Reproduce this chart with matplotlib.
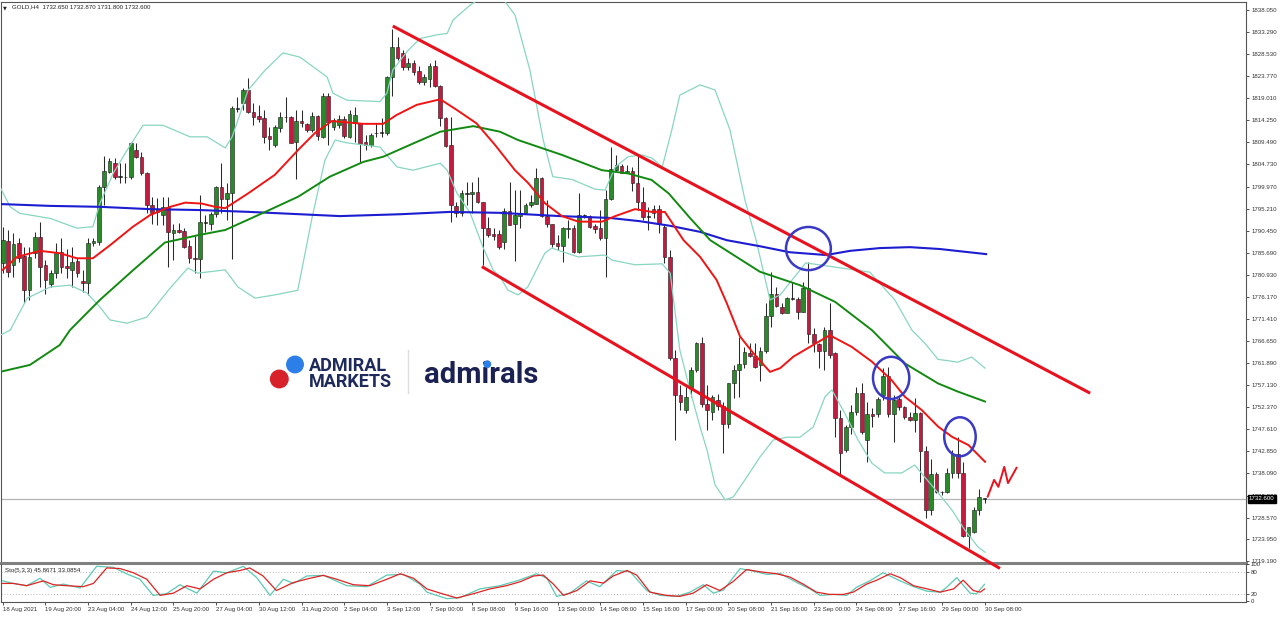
import matplotlib
matplotlib.use("Agg")
import matplotlib.pyplot as plt
import matplotlib.transforms as mtransforms
from matplotlib.patches import Ellipse
from matplotlib.lines import Line2D
import numpy as np

plt.rcParams['font.family'] = ['Liberation Sans', 'DejaVu Sans']

# GOLD H4 candles, oldest first
opens = [1783.5, 1788.3, 1783.1, 1787.8, 1785.0, 1777.7, 1785.7, 1789.1, 1783.1, 1778.9,
         1781.3, 1785.9, 1782.8, 1782.0, 1783.9, 1779.7, 1779.1, 1787.7, 1788.1, 1799.9,
         1803.2, 1805.0, 1802.1, 1802.1, 1802.1, 1807.9, 1806.4, 1802.8, 1796.0, 1795.1,
         1793.8, 1795.6, 1790.0, 1790.7, 1790.4, 1787.2, 1784.6, 1784.3, 1792.2, 1791.8,
         1794.0, 1799.9, 1797.2, 1798.6, 1816.9, 1818.1, 1820.9, 1816.1, 1815.2, 1814.7,
         1810.9, 1808.9, 1812.5, 1814.9, 1815.0, 1809.6, 1814.1, 1813.4, 1812.2, 1815.2,
         1810.7, 1819.5, 1812.9, 1813.2, 1814.5, 1810.7, 1813.6, 1813.7, 1809.5, 1808.9,
         1811.5, 1811.6, 1811.6, 1823.5, 1830.1, 1828.7, 1825.7, 1826.6, 1825.0, 1822.6,
         1823.1, 1826.0, 1821.7, 1814.8, 1808.9, 1795.8, 1794.2, 1798.4, 1798.4, 1798.9,
         1796.7, 1791.0, 1789.7, 1789.7, 1788.1, 1794.8, 1791.8, 1793.7, 1794.3, 1796.0,
         1796.3, 1801.9, 1793.6, 1791.9, 1787.7, 1787.2, 1790.8, 1791.1, 1785.9, 1793.6,
         1793.6, 1791.5, 1791.1, 1788.9, 1797.2, 1803.5, 1804.4, 1802.9, 1803.3, 1800.8,
         1796.7, 1793.5, 1795.1, 1795.1, 1791.2, 1784.8, 1762.9, 1755.0, 1751.8, 1756.5,
         1760.4, 1766.2, 1753.1, 1751.4, 1753.9, 1752.6, 1748.8, 1757.5, 1760.3, 1761.6,
         1764.0, 1763.5, 1761.5, 1764.5, 1772.1, 1776.8, 1773.9, 1772.8, 1775.9, 1775.7,
         1773.0, 1778.0, 1768.2, 1766.0, 1764.5, 1769.0, 1764.0, 1750.0, 1743.1, 1748.2,
         1751.4, 1755.4, 1745.3, 1751.0, 1750.9, 1755.0, 1759.1, 1750.9, 1754.1, 1752.4,
         1750.2, 1749.6, 1751.2, 1743.0, 1730.2, 1738.0, 1734.1, 1734.0, 1738.2, 1742.3,
         1738.2, 1724.6, 1725.5, 1730.2, 1732.65]
highs = [1791.2, 1790.6, 1789.9, 1788.9, 1787.0, 1787.0, 1790.2, 1792.4, 1784.1, 1782.0,
         1787.7, 1788.8, 1786.6, 1787.0, 1784.5, 1782.0, 1788.8, 1788.8, 1800.3, 1806.6,
         1806.1, 1806.1, 1805.0, 1805.0, 1809.6, 1809.3, 1807.5, 1803.2, 1797.8, 1797.4,
         1797.8, 1797.8, 1792.0, 1792.1, 1791.0, 1788.4, 1789.2, 1798.2, 1793.8, 1794.5,
         1800.1, 1805.1, 1800.7, 1817.3, 1819.2, 1821.2, 1823.3, 1818.1, 1817.6, 1816.5,
         1812.9, 1813.2, 1816.1, 1819.3, 1815.2, 1816.5, 1816.5, 1813.7, 1816.1, 1815.4,
         1820.1, 1820.1, 1814.8, 1815.4, 1815.2, 1816.5, 1817.2, 1813.7, 1811.1, 1811.5,
         1813.6, 1814.7, 1823.8, 1833.9, 1832.3, 1829.4, 1827.7, 1827.3, 1826.0, 1824.2,
         1826.6, 1827.3, 1821.9, 1815.0, 1815.0, 1796.7, 1799.2, 1801.0, 1801.0, 1802.1,
         1796.7, 1793.5, 1791.0, 1790.6, 1795.3, 1801.0, 1799.2, 1799.2, 1796.4, 1798.2,
         1803.9, 1802.1, 1797.1, 1792.0, 1789.5, 1791.2, 1792.8, 1791.7, 1798.5, 1794.1,
         1793.8, 1792.0, 1794.9, 1799.2, 1808.6, 1806.8, 1804.8, 1804.6, 1804.2, 1806.8,
         1799.9, 1795.6, 1796.0, 1796.0, 1792.0, 1786.3, 1764.7, 1757.2, 1756.8, 1761.1,
         1766.5, 1767.6, 1757.2, 1755.0, 1755.2, 1753.6, 1757.5, 1761.5, 1767.6, 1765.4,
         1766.2, 1766.2, 1765.4, 1774.8, 1781.6, 1778.4, 1774.8, 1776.2, 1779.4, 1776.2,
         1779.4, 1783.7, 1769.4, 1766.2, 1769.7, 1774.8, 1764.3, 1751.8, 1748.5, 1752.9,
         1756.8, 1757.7, 1753.6, 1752.1, 1754.6, 1760.8, 1761.0, 1755.0, 1755.0, 1752.6,
         1751.4, 1754.3, 1751.4, 1743.9, 1741.3, 1738.5, 1734.3, 1739.2, 1743.1, 1745.9,
         1740.6, 1726.6, 1730.9, 1734.7, 1732.87]
lows = [1781.3, 1780.5, 1780.5, 1783.7, 1774.9, 1775.5, 1784.5, 1778.4, 1776.9, 1778.4,
        1780.2, 1781.3, 1780.2, 1778.4, 1780.5, 1777.3, 1776.6, 1787.1, 1787.4, 1796.0,
        1802.8, 1801.7, 1800.7, 1800.7, 1801.5, 1806.1, 1802.5, 1794.2, 1792.0, 1791.7,
        1791.7, 1782.7, 1784.1, 1789.9, 1786.7, 1783.5, 1781.3, 1780.2, 1790.2, 1790.6,
        1793.5, 1794.2, 1792.8, 1784.3, 1816.1, 1816.5, 1815.8, 1813.2, 1814.0, 1809.3,
        1807.9, 1808.6, 1811.8, 1814.0, 1809.3, 1801.7, 1812.9, 1811.8, 1811.8, 1810.0,
        1810.4, 1808.9, 1812.2, 1812.6, 1810.4, 1810.4, 1809.6, 1805.3, 1807.9, 1808.5,
        1810.7, 1810.7, 1811.1, 1819.4, 1827.3, 1825.1, 1825.1, 1824.0, 1822.1, 1821.9,
        1821.4, 1821.5, 1813.0, 1808.6, 1792.4, 1793.5, 1793.6, 1796.0, 1794.3, 1796.4,
        1783.1, 1789.1, 1788.4, 1786.6, 1786.6, 1791.7, 1784.0, 1791.0, 1794.2, 1795.6,
        1796.3, 1793.5, 1791.3, 1786.9, 1786.3, 1783.8, 1788.8, 1785.6, 1785.6, 1793.1,
        1791.0, 1789.9, 1788.4, 1780.5, 1797.1, 1803.2, 1802.8, 1802.8, 1799.1, 1794.9,
        1792.8, 1790.7, 1793.1, 1789.9, 1783.4, 1762.6, 1745.3, 1751.8, 1751.1, 1754.6,
        1760.0, 1752.5, 1747.5, 1749.6, 1751.8, 1742.4, 1747.8, 1754.3, 1754.6, 1760.8,
        1763.3, 1760.8, 1758.1, 1764.0, 1769.7, 1774.0, 1772.5, 1772.6, 1775.5, 1771.5,
        1773.0, 1766.2, 1764.3, 1760.8, 1760.4, 1762.9, 1746.0, 1737.8, 1742.8, 1746.7,
        1750.7, 1746.7, 1740.6, 1748.2, 1750.2, 1753.9, 1750.2, 1744.9, 1751.8, 1749.8,
        1749.5, 1747.1, 1736.3, 1728.4, 1729.1, 1733.8, 1733.4, 1733.8, 1737.0, 1737.0,
        1724.4, 1722.0, 1725.3, 1729.1, 1731.8]
closes = [1788.4, 1781.6, 1787.5, 1784.6, 1777.7, 1784.8, 1789.1, 1782.7, 1779.8, 1781.3,
          1785.9, 1782.7, 1782.3, 1783.8, 1781.3, 1779.2, 1787.7, 1788.2, 1799.9, 1803.3,
          1805.5, 1802.1, 1802.1, 1802.0, 1809.3, 1806.4, 1802.8, 1796.0, 1794.2, 1794.5,
          1795.6, 1790.2, 1790.6, 1790.2, 1787.0, 1784.5, 1784.4, 1792.3, 1792.3, 1794.0,
          1799.9, 1797.2, 1798.6, 1816.9, 1816.8, 1820.9, 1816.1, 1815.0, 1814.5, 1810.7,
          1810.3, 1812.9, 1814.9, 1814.9, 1809.4, 1814.1, 1813.7, 1812.2, 1815.2, 1810.9,
          1819.5, 1814.0, 1814.3, 1814.5, 1810.9, 1815.6, 1815.4, 1809.1, 1808.9, 1811.1,
          1811.6, 1811.6, 1823.5, 1830.1, 1827.6, 1825.7, 1826.6, 1824.6, 1822.6, 1823.5,
          1826.0, 1821.7, 1814.7, 1808.7, 1796.0, 1794.3, 1798.5, 1798.5, 1798.9, 1796.7,
          1791.0, 1789.5, 1789.3, 1787.0, 1794.8, 1791.7, 1793.8, 1794.3, 1796.0, 1796.7,
          1801.9, 1793.6, 1791.8, 1787.6, 1787.1, 1791.0, 1791.1, 1785.9, 1793.8, 1793.7,
          1791.2, 1790.9, 1788.8, 1797.2, 1803.7, 1804.6, 1802.9, 1803.4, 1800.7, 1796.7,
          1793.3, 1793.4, 1794.3, 1791.9, 1784.8, 1762.9, 1755.0, 1753.6, 1754.6, 1760.4,
          1766.2, 1753.1, 1751.8, 1754.5, 1752.6, 1748.8, 1757.5, 1760.3, 1761.6, 1764.2,
          1763.5, 1761.1, 1764.5, 1772.1, 1776.8, 1774.3, 1772.8, 1775.9, 1775.8, 1773.0,
          1778.0, 1768.2, 1766.2, 1764.5, 1769.0, 1763.6, 1750.0, 1742.4, 1748.2, 1751.4,
          1755.4, 1747.1, 1751.0, 1750.5, 1754.1, 1759.1, 1750.9, 1753.9, 1752.4, 1750.2,
          1749.6, 1751.2, 1743.0, 1730.2, 1738.0, 1734.1, 1734.0, 1738.2, 1742.3, 1738.2,
          1724.6, 1726.5, 1730.2, 1732.9, 1732.6]

# indicator lines, (bar, price) knots
ma_blue_x = [-0.5, 8.9, 18.2, 27.6, 37.0, 46.3, 55.7, 63.2, 74.5, 83.8, 93.2, 104.4, 113.8,
             119.4, 125.1, 130.7, 135.7, 141.9, 147.5, 154.3, 158.8, 164.4, 170.0, 175.6, 184.3]
ma_blue_y = [1796.2, 1795.8, 1795.6, 1795.1, 1794.9, 1794.5, 1794.0, 1793.6, 1794.0, 1794.5,
             1794.3, 1793.6, 1793.2, 1792.5, 1791.5, 1790.2, 1788.4, 1787.1, 1785.8, 1785.2,
             1786.1, 1786.7, 1786.9, 1786.5, 1785.4]
ma_red_x = [0, 2.7, 7.0, 10.7, 13.9, 16.9, 20.1, 24.4, 27.6, 31.4, 34.2, 37.3, 39.8, 41.7,
            46.0, 51.0, 55.4, 58.5, 61.7, 67.6, 71.3, 73.8, 77.6, 82.0, 85.1, 88.8, 92.3,
            96.0, 98.5, 101.6, 104.8, 107.9, 112.3, 114.8, 118.5, 121.6, 124.1, 127.6, 130.7,
            133.8, 135.7, 138.2, 140.7, 143.8, 145.7, 148.2, 151.3, 155.0, 159.1, 162.9, 166.6,
            169.1, 172.2, 175.3, 177.9, 181.0, 184.1]
ma_red_y = [1782.0, 1784.8, 1786.1, 1785.6, 1784.5, 1784.5, 1787.3, 1791.3, 1793.8, 1795.6,
            1796.5, 1796.3, 1795.6, 1795.3, 1798.5, 1802.5, 1807.9, 1811.5, 1814.1, 1813.5,
            1813.5, 1815.4, 1817.6, 1818.8, 1816.5, 1813.6, 1808.9, 1803.5, 1800.7, 1796.4,
            1793.6, 1792.4, 1792.4, 1793.6, 1795.1, 1794.5, 1794.5, 1788.4, 1784.8, 1779.8,
            1774.8, 1767.6, 1764.0, 1760.0, 1760.8, 1763.3, 1765.4, 1767.9, 1765.4, 1762.2,
            1758.2, 1754.6, 1751.8, 1748.2, 1746.0, 1744.2, 1740.6]
ma_green_x = [-0.5, 5.1, 10.7, 12.6, 18.2, 24.5, 30.4, 36.7, 41.7, 49.2, 55.4, 61.3, 67.6,
              71.3, 77.0, 82.0, 88.2, 93.2, 96.6, 104.8, 112.3, 117.2, 121.6, 124.8, 128.8,
              132.6, 141.9, 149.4, 156.0, 162.9, 169.1, 175.3, 179.1, 184.1]
ma_green_y = [1760.0, 1761.5, 1765.8, 1769.0, 1775.5, 1782.0, 1787.9, 1789.5, 1790.6, 1794.5,
              1797.8, 1802.1, 1805.3, 1806.4, 1809.3, 1811.8, 1813.0, 1811.8, 1810.0, 1806.8,
              1803.5, 1802.8, 1801.4, 1798.5, 1793.2, 1788.4, 1781.6, 1778.7, 1775.1, 1769.0,
              1761.8, 1757.5, 1755.7, 1753.6]
bb_up_x = [-0.5, 1.4, 3.2, 8.9, 13.9, 16.9, 18.2, 20.7, 23.3, 26.3, 30.0, 35.1, 38.3, 41.7,
           43.0, 46.0, 49.2, 52.5, 55.7, 60.8, 61.9, 64.5, 70.7, 72.0, 73.1, 75.8, 78.2, 81.4,
           83.3, 84.4, 87.6, 90.4, 93.2, 96.0, 98.8, 101.3, 103.1, 106.7, 111.0, 112.9, 114.8,
           117.2, 119.8, 121.7, 123.6, 125.4, 126.9, 130.7, 133.5, 136.3, 139.1, 141.2, 143.8,
           145.7, 147.5, 150.5, 156.0, 162.5, 167.2, 170.4, 172.8, 175.3, 179.0, 181.6, 184.1]
bb_up_y = [1799.9, 1795.6, 1794.2, 1793.1, 1791.0, 1791.3, 1796.3, 1802.8, 1807.8, 1813.2,
           1813.2, 1810.7, 1810.7, 1808.3, 1810.7, 1820.8, 1825.1, 1828.8, 1827.9, 1823.6,
           1820.1, 1818.6, 1818.3, 1820.1, 1825.1, 1829.1, 1831.9, 1832.7, 1833.0, 1835.9,
           1839.1, 1841.3, 1841.3, 1837.0, 1825.1, 1810.0, 1802.1, 1801.5, 1799.4, 1799.2,
           1804.2, 1806.4, 1806.8, 1806.1, 1804.2, 1812.2, 1819.7, 1821.9, 1820.8, 1812.2,
           1797.1, 1788.4, 1775.5, 1776.6, 1779.2, 1783.5, 1782.6, 1781.5, 1775.5, 1769.0,
           1766.2, 1762.7, 1762.1, 1763.2, 1760.8]
bb_lo_x = [-0.5, 1.4, 4.6, 8.9, 12.6, 15.8, 18.2, 20.1, 23.3, 27.0, 31.4, 34.7, 36.6, 41.7,
           44.1, 47.3, 51.0, 55.3, 58.0, 60.4, 62.3, 64.5, 70.7, 73.9, 76.9, 82.0, 83.3, 85.1,
           87.6, 90.0, 91.9, 93.2, 94.7, 96.6, 98.4, 101.6, 102.9, 107.8, 112.9, 114.2, 118.5,
           123.6, 125.1, 126.9, 128.8, 130.7, 132.0, 133.5, 135.4, 136.9, 139.1, 141.9, 144.4,
           147.0, 149.4, 151.9, 154.1, 155.4, 157.8, 160.3, 162.9, 165.3, 168.5, 170.9, 172.8,
           175.3, 177.9, 180.3, 182.8, 184.1]
bb_lo_y = [1767.9, 1769.0, 1775.9, 1778.3, 1778.7, 1777.0, 1774.0, 1771.2, 1770.5, 1771.8,
           1778.1, 1782.4, 1781.3, 1782.0, 1778.3, 1775.9, 1776.6, 1777.6, 1793.4, 1805.7,
           1810.0, 1809.4, 1808.5, 1804.2, 1803.5, 1805.0, 1803.5, 1798.6, 1794.3, 1786.9,
           1782.0, 1780.5, 1777.6, 1776.6, 1778.3, 1785.6, 1786.7, 1784.8, 1785.2, 1784.1,
           1783.1, 1783.3, 1781.3, 1764.7, 1756.1, 1748.1, 1743.1, 1735.6, 1732.4, 1733.0,
           1736.7, 1741.6, 1745.3, 1745.9, 1745.9, 1748.1, 1754.6, 1756.1, 1751.1, 1745.3,
           1740.3, 1738.2, 1738.2, 1739.9, 1737.3, 1733.9, 1730.2, 1725.9, 1722.2, 1721.1]

# Stochastic (5,3,3)
sto_k_x = [0, 2.0, 4.5, 7.0, 8.9, 11.4, 14.5, 17.6, 20.7, 23.2, 25.7, 28.2, 30.7, 33.2, 36.4,
           39.5, 42.0, 45.1, 47.6, 50.1, 52.6, 54.5, 57.0, 60.1, 64.5, 68.2, 72.0, 75.1, 78.2,
           79.5, 83.2, 85.7, 89.4, 93.2, 96.6, 100.1, 102.0, 103.8, 106.3, 109.4, 111.9, 115.1,
           117.6, 120.7, 123.2, 126.3, 128.8, 131.3, 133.2, 135.1, 138.2, 140.7, 143.2, 145.7,
           148.8, 151.3, 153.2, 155.7, 158.2, 160.0, 162.5, 165.0, 168.2, 170.7, 173.2, 175.7,
           176.9, 178.8, 181.3, 182.5, 184.0]
sto_k_y = [55.3, 48.3, 42.1, 62.4, 37.7, 46.5, 35.9, 95.0, 92.4, 74.7, 59.7, 15.7, 20.1, 44.8,
           21.8, 81.8, 77.4, 95.0, 64.2, 15.7, 59.7, 48.3, 68.6, 70.3, 42.1, 39.5, 71.2, 73.0,
           46.5, 24.5, 6.8, 9.5, 33.3, 42.1, 56.5, 74.7, 62.4, 13.0, 21.8, 55.3, 39.5, 83.6,
           80.0, 28.9, 15.7, 13.0, 24.5, 44.8, 21.8, 30.6, 88.9, 81.8, 73.0, 75.6, 50.9, 33.3,
           15.7, 18.3, 15.7, 37.7, 55.3, 77.4, 55.3, 39.5, 27.1, 24.5, 37.7, 64.2, 21.8, 20.1,
           45.9]
sto_d_x = [0, 2.0, 4.5, 7.6, 9.5, 12.0, 15.1, 17.0, 19.5, 22.0, 24.5, 27.0, 29.5, 32.0, 34.5,
           37.0, 39.5, 42.0, 44.5, 46.3, 48.8, 51.3, 54.5, 57.6, 60.1, 62.6, 65.7, 68.8, 72.0,
           74.5, 77.0, 79.5, 82.0, 85.1, 88.2, 91.3, 94.4, 97.0, 99.5, 101.3, 103.2, 105.1,
           107.6, 110.1, 112.6, 114.4, 117.0, 118.8, 121.3, 124.4, 126.9, 129.4, 131.9, 134.4,
           136.9, 139.4, 142.0, 145.0, 147.5, 150.0, 152.5, 155.0, 157.5, 159.4, 161.9, 163.8,
           166.3, 168.2, 170.7, 173.8, 175.7, 178.2, 180.0, 181.9, 183.2, 184.0]
sto_d_y = [48.3, 48.3, 42.1, 55.3, 44.8, 42.1, 39.5, 48.3, 90.6, 88.9, 77.4, 59.7, 15.7, 21.8,
           42.1, 33.3, 59.7, 77.4, 83.6, 90.6, 68.6, 28.9, 50.9, 62.4, 70.3, 59.7, 44.8, 42.1,
           59.7, 74.7, 62.4, 33.3, 21.8, 8.6, 20.1, 33.3, 42.1, 53.0, 68.6, 71.2, 46.5, 15.7,
           28.9, 55.3, 49.2, 68.6, 83.6, 71.2, 24.5, 15.7, 13.0, 21.8, 44.8, 28.9, 53.6, 86.2,
           80.0, 74.7, 65.9, 46.5, 24.5, 18.3, 18.3, 24.5, 46.5, 57.1, 74.7, 64.2, 42.1, 31.5,
           24.5, 33.3, 57.1, 28.9, 24.5, 33.1]

# drawings on the chart
chan_up_x = [73.1, 203.8]
chan_up_y = [1834.6, 1755.4]
chan_lo_x = [89.8, 186.9]
chan_lo_y = [1782.7, 1717.6]
circle_x = [151.0, 166.5, 179.4]
circle_y = [1786.6, 1758.7, 1746.0]
circle_w = [8.4, 6.8, 5.9]
circle_h = [9.3, 9.1, 8.4]
zig_x = [184.6, 185.8, 186.6, 187.7, 188.4, 190.0]
zig_y = [1733.1, 1736.7, 1735.2, 1739.5, 1736.0, 1739.3]

last_price = 1732.6
price_ticks = [1838.05, 1833.29, 1828.53, 1823.77, 1819.01, 1814.25, 1809.49, 1804.73,
               1799.97, 1795.21, 1790.45, 1785.69, 1780.93, 1776.17, 1771.41, 1766.65,
               1761.89, 1757.13, 1752.37, 1747.61, 1742.85, 1738.09, 1733.33, 1728.57,
               1723.95, 1719.19]
date_ticks = list(range(0, 185, 8))
date_labels = ['18 Aug 2021', '19 Aug 20:00', '23 Aug 04:00', '24 Aug 12:00', '25 Aug 20:00',
               '27 Aug 04:00', '30 Aug 12:00', '31 Aug 20:00', '2 Sep 04:00', '3 Sep 12:00',
               '7 Sep 00:00', '8 Sep 08:00', '9 Sep 16:00', '13 Sep 00:00', '14 Sep 08:00',
               '15 Sep 16:00', '17 Sep 00:00', '20 Sep 08:00', '21 Sep 16:00', '23 Sep 00:00',
               '24 Sep 08:00', '27 Sep 16:00', '29 Sep 00:00', '30 Sep 08:00']

W, H = 1280, 617
fx = lambda px: px / W
fy = lambda py: 1 - py / H

fig = plt.figure(figsize=(12.8, 6.17), dpi=100)
fig.patch.set_facecolor('white')

ax = fig.add_axes([fx(1), fy(563), fx(1245.7) - fx(1), fy(2) - fy(563)])
sx = fig.add_axes([fx(1), fy(601.5), fx(1245.7) - fx(1), fy(564) - fy(601.5)])
sx.patch.set_alpha(0)

#%% candles
o = np.array(opens); h = np.array(highs); l = np.array(lows); c = np.array(closes)
x = np.arange(len(o))
body_lo = np.minimum(o, c)
body_h = np.maximum(np.abs(c - o), 0.13)
cols = np.where(np.abs(c - o) < 0.15, '#1a1a1a', np.where(c >= o, '#2a8a2a', '#c41a40'))
ax.vlines(x, l, h, color='#2a2a2a', lw=0.75, zorder=3)
ax.bar(x, body_h, bottom=body_lo, width=0.68, color=cols, edgecolor='#1a1a1a',
       linewidth=0.4, zorder=4)

#%% indicators
ax.plot(bb_up_x, bb_up_y, color='#88d6c0', lw=0.9, zorder=5)
ax.plot(bb_lo_x, bb_lo_y, color='#88d6c0', lw=0.9, zorder=5)
ax.plot(ma_blue_x, ma_blue_y, color='#1c1cd0', lw=1.5, zorder=6)
ax.plot(ma_green_x, ma_green_y, color='#128a12', lw=1.4, zorder=6)
ax.plot(ma_red_x, ma_red_y, color='#f01414', lw=1.4, zorder=6)

ax.axhline(last_price, color='#b4b4b4', lw=0.9, zorder=1)

#%% drawings
ax.plot(chan_up_x, chan_up_y, color='#e8121e', lw=2.2, zorder=8, clip_on=False,
        solid_capstyle='butt')
ax.plot(chan_lo_x, chan_lo_y, color='#e8121e', lw=2.2, zorder=8, clip_on=False,
        solid_capstyle='butt')
for cx, cy, cw, ch in zip(circle_x, circle_y, circle_w, circle_h):
    ax.add_patch(Ellipse((cx, cy), cw, ch, fill=False, edgecolor='#3a3ac4', lw=1.8, zorder=9))
ax.plot(zig_x, zig_y, color='#e8121e', lw=1.4, zorder=8, clip_on=False)

ax.set_xlim(-0.319, 232.95)
ax.set_ylim(1718.77, 1839.78)
ax.set_xticks([])
ax.yaxis.tick_right()
ax.set_yticks(price_ticks)
ax.set_yticklabels([f'{v:.3f}' for v in price_ticks])
ax.tick_params(axis='y', labelsize=4.4, length=2.5, width=0.6, pad=1.5, colors='#333333')
for side in ['left', 'top', 'right']:
    ax.spines[side].set_color('#555555')
    ax.spines[side].set_linewidth(0.8)
ax.spines['bottom'].set_color('#808080')
ax.spines['bottom'].set_linewidth(2.2)

trans = mtransforms.blended_transform_factory(ax.transAxes, ax.transData)
ax.text(1.0027, last_price, f'{last_price:.3f}', transform=trans, ha='left', va='center',
        color='white', fontsize=4.4, zorder=20, clip_on=False,
        bbox=dict(boxstyle='square,pad=0.25', fc='black', ec='black'))

#%% stochastic
sx.axhline(80, color='#b8b8b8', lw=0.7, ls=(0, (1, 2)))
sx.axhline(20, color='#b8b8b8', lw=0.7, ls=(0, (1, 2)))
sx.plot(sto_k_x, sto_k_y, color='#5cc8b4', lw=0.9)
sx.plot(sto_d_x, sto_d_y, color='#e02222', lw=0.9)
sx.set_xlim(-0.319, 232.95)
sx.set_ylim(-1, 101.3)
sx.yaxis.tick_right()
sx.set_yticks([100, 80, 20, 0])
sx.set_yticklabels(['100', '80', '20', '0'])
sx.tick_params(axis='y', labelsize=4.4, length=2, width=0.6, pad=1.5, colors='#333333')
sx.set_xticks(date_ticks)
sx.set_xticklabels(date_labels)
sx.tick_params(axis='x', labelsize=4.4, length=2.5, width=0.6, pad=1.5, colors='#333333')
for lbl in sx.get_xticklabels():
    lbl.set_ha('left')
for side in ['left', 'bottom', 'right']:
    sx.spines[side].set_color('#555555')
    sx.spines[side].set_linewidth(0.8)
sx.spines['top'].set_visible(False)

#%% texts
fig.text(fx(3), fy(7.5), '\u25bc', fontsize=3.6, va='center', color='#222222',
         family=['DejaVu Sans'])
fig.text(fx(12.5), fy(7), 'GOLD,H4  1732.650 1732.870 1731.800 1732.600', fontsize=4.4,
         va='center', color='#222222')
fig.text(fx(5), fy(570.5), 'Sto(5,3,3) 45.8671 33.0854', fontsize=4.4, va='center',
         color='#222222')

#%% logo
fig.add_artist(Ellipse((fx(279.3), fy(379)), 17.5 / W, 17.5 / H, transform=fig.transFigure,
                       color='#d8222b'))
fig.add_artist(Ellipse((fx(295), fy(364.5)), 16.5 / W, 16.5 / H, transform=fig.transFigure,
                       color='#2c7ee8'))
# baseline of a multi-line text is the last line's baseline
fig.text(fx(309), fy(386.7), 'ADMIRAL\nMARKETS', fontsize=13, fontweight='bold',
         family='Roboto', color='#1d2a5b', va='baseline', linespacing=0.82)
fig.add_artist(Line2D([fx(407.7), fx(407.7)], [fy(350), fy(393)], transform=fig.transFigure,
                      color='#dedede', lw=1))
fig.text(fx(424), fy(383.3), 'admirals', fontsize=21, fontweight='bold', family='Roboto',
         color='#1b2152', va='baseline')
fig.add_artist(Ellipse((fx(487.3), fy(364.2)), 6.4 / W, 6.4 / H, transform=fig.transFigure,
                       color='#2c7ee8', zorder=10))

fig.savefig('out.png', dpi=100, facecolor='white')
